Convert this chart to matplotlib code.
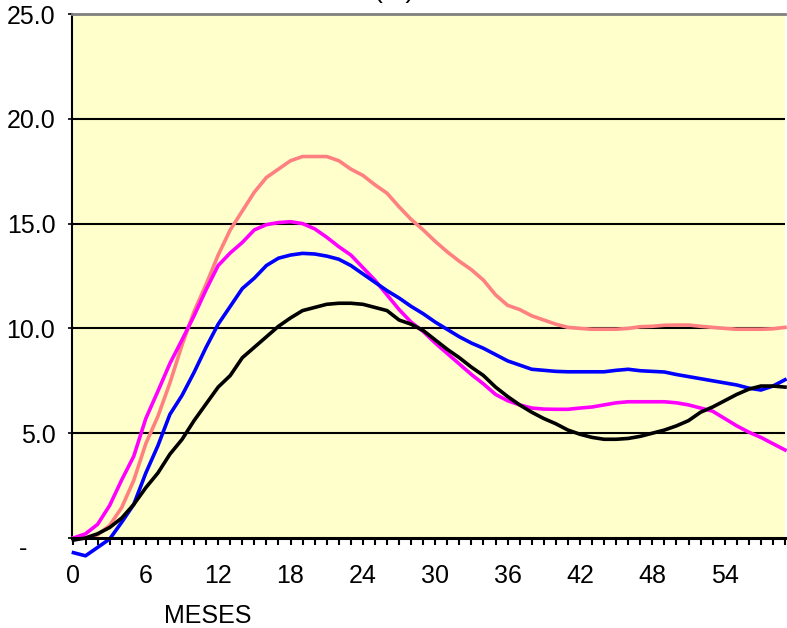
import matplotlib
matplotlib.use("Agg")
import matplotlib.pyplot as plt
import numpy as np

plt.rcParams['font.family'] = ['Liberation Sans', 'DejaVu Sans']

# meses 0..59
meses = list(range(60))

# serie salmon
serie_salmon = [0.0, 0.0, 0.15, 0.6, 1.45, 2.75, 4.5, 5.8, 7.4, 9.2,
                10.8, 12.1, 13.5, 14.7, 15.6, 16.5, 17.2, 17.6, 18.0, 18.2,
                18.2, 18.2, 18.0, 17.6, 17.3, 16.85, 16.45, 15.8, 15.2, 14.7,
                14.15, 13.65, 13.2, 12.8, 12.3, 11.6, 11.1, 10.9, 10.6, 10.4,
                10.2, 10.05, 10.0, 9.96, 9.96, 9.96, 10.0, 10.08, 10.1, 10.15,
                10.16, 10.16, 10.1, 10.05, 10.0, 9.96, 9.96, 9.96, 9.98, 10.05]

# serie magenta
serie_magenta = [0.0, 0.2, 0.65, 1.55, 2.77, 3.9, 5.7, 7.0, 8.33, 9.45,
                 10.6, 11.85, 13.0, 13.6, 14.1, 14.7, 14.95, 15.05, 15.09, 15.0,
                 14.75, 14.35, 13.9, 13.5, 12.9, 12.3, 11.6, 10.9, 10.3, 9.85,
                 9.3, 8.8, 8.3, 7.8, 7.35, 6.85, 6.55, 6.35, 6.2, 6.15,
                 6.14, 6.14, 6.2, 6.25, 6.35, 6.45, 6.5, 6.5, 6.5, 6.5,
                 6.45, 6.35, 6.2, 6.05, 5.7, 5.35, 5.05, 4.8, 4.5, 4.2]

# serie azul
serie_azul = [-0.7, -0.85, -0.45, -0.05, 0.75, 1.6, 3.1, 4.4, 5.9, 6.8,
              7.9, 9.1, 10.2, 11.05, 11.9, 12.4, 13.0, 13.35, 13.5, 13.58,
              13.55, 13.45, 13.3, 13.0, 12.6, 12.2, 11.8, 11.45, 11.05, 10.7,
              10.3, 9.95, 9.6, 9.3, 9.05, 8.75, 8.45, 8.25, 8.05, 8.0,
              7.95, 7.93, 7.93, 7.93, 7.93, 8.0, 8.05, 7.98, 7.95, 7.92,
              7.8, 7.7, 7.6, 7.5, 7.4, 7.3, 7.15, 7.06, 7.25, 7.55]

# serie negra
serie_negra = [-0.1, 0.0, 0.2, 0.5, 0.95, 1.6, 2.4, 3.1, 4.0, 4.7,
               5.6, 6.4, 7.2, 7.75, 8.6, 9.1, 9.6, 10.1, 10.5, 10.85,
               11.0, 11.15, 11.2, 11.2, 11.15, 11.0, 10.85, 10.4, 10.2, 9.9,
               9.45, 9.0, 8.6, 8.15, 7.75, 7.2, 6.75, 6.35, 6.0, 5.7,
               5.45, 5.15, 4.95, 4.8, 4.71, 4.71, 4.75, 4.85, 5.0, 5.15,
               5.35, 5.6, 6.0, 6.25, 6.55, 6.85, 7.1, 7.25, 7.25, 7.2]

y_ticks = [0, 5, 10, 15, 20, 25]
y_labels = ["", "5.0", "10.0", "15.0", "20.0", "25.0"]
x_ticks = [0, 6, 12, 18, 24, 30, 36, 42, 48, 54]

fig = plt.figure(figsize=(7.87, 6.28), dpi=100)
ax = fig.add_axes([72/787, 1-538/628, (785-72)/787, (538-14)/628])
ax.set_facecolor("#FFFFCC")

# lineas de cuadricula
for y in [5, 10, 15, 20]:
    ax.axhline(y, color="black", lw=1.5, zorder=1)

lw = 2.6
ax.plot(meses, serie_salmon, color="#FF8080", lw=lw, zorder=3, clip_on=False)
ax.plot(meses, serie_magenta, color="#FF00FF", lw=lw, zorder=3, clip_on=False)
ax.plot(meses, serie_azul, color="#0000FF", lw=lw, zorder=3, clip_on=False)
ax.plot(meses, serie_negra, color="black", lw=lw, zorder=3, clip_on=False)

ax.set_xlim(-0.12, 59)
ax.set_ylim(0, 25)

ax.set_xticks(x_ticks)
ax.set_xticklabels([str(t) for t in x_ticks])
ax.set_xticks(meses, minor=True)
ax.tick_params(axis="x", which="both", direction="out", length=5, width=1.5,
               labelsize=18, pad=14)
ax.set_yticks(y_ticks)
ax.set_yticklabels(y_labels)
ax.tick_params(axis="y", direction="out", length=3, width=1.2, labelsize=18, pad=9)

ax.spines["right"].set_visible(False)
ax.spines["top"].set_color("#808080")
ax.spines["top"].set_linewidth(2)
ax.spines["left"].set_color("black")
ax.spines["left"].set_linewidth(1.5)
ax.spines["bottom"].set_linewidth(2.2)
ax.spines["bottom"].set_zorder(4)

# etiqueta del cero y textos
fig.text(23/787, 1-549/628, "-", fontsize=18, ha="center", va="center")
fig.text(208/787, 1-616/628, "MESES", fontsize=18, ha="center", va="center")
fig.text(394/787, 1+2/628, "(%)", fontsize=19, ha="center", va="baseline")

fig.savefig("out.png", dpi=100)
